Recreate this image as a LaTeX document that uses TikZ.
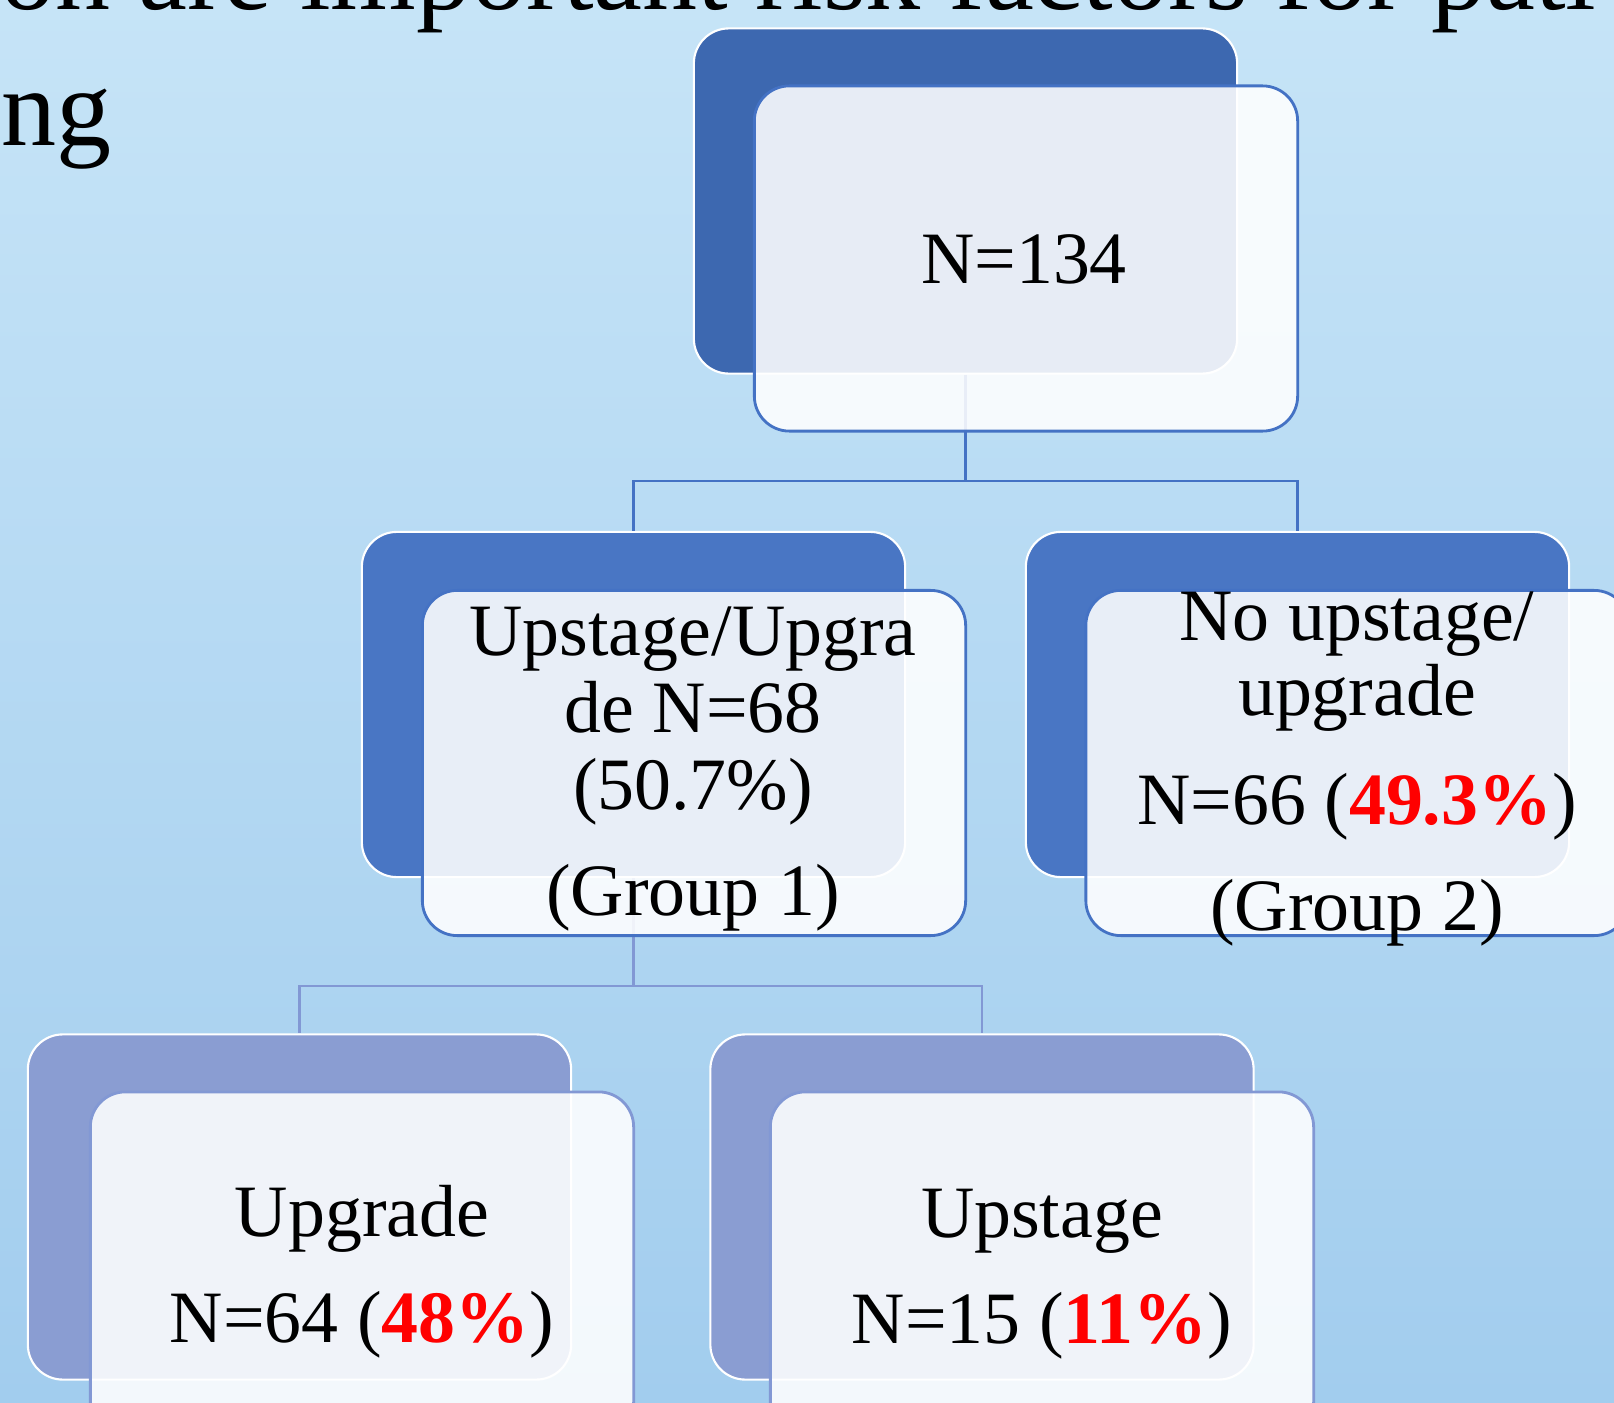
\documentclass[tikz,border=0pt]{standalone}
\usepackage{fontspec}
\setmainfont{Liberation Serif}

\definecolor{skytop}{RGB}{198,228,247}
\definecolor{skybottom}{RGB}{162,205,238}
\definecolor{rootfill}{RGB}{61,104,176}
\definecolor{midfill}{RGB}{73,118,196}
\definecolor{leaffill}{RGB}{138,157,210}
\definecolor{upperline}{RGB}{68,114,196}
\definecolor{lowerline}{RGB}{130,152,212}
\definecolor{pctred}{RGB}{255,0,0}

\newcommand{\pct}[1]{\textcolor{pctred}{\bfseries #1}}

\begin{document}
\begin{tikzpicture}[x=0.01cm,y=-0.01cm,
  backbox/.style={draw=white, line width=0.6pt, rounded corners=0.35cm,
    minimum width=5.43cm, minimum height=3.45cm, inner sep=0pt},
  frontbox/.style={draw=#1, line width=0.8pt, fill=white, fill opacity=0.88,
    rounded corners=0.35cm, minimum width=5.43cm, minimum height=3.45cm, inner sep=0pt},
  boxtext/.style={font=\fontsize{21pt}{25pt}\selectfont, anchor=base, inner sep=0pt},
  headline/.style={font=\fontsize{31.3pt}{36pt}\selectfont, anchor=base west, inner sep=0pt},
  connector/.style={line width=0.6pt}]

\useasboundingbox (0,0) rectangle (1614,1403);
\clip (0,0) rectangle (1614,1403);

% background
\shade[top color=skytop, bottom color=skybottom] (0,0) rectangle (1614,1403);

% heading fragments
\node[headline] (head1) at (0,10) {on are important risk factors for pati};
\node[headline] (head2) at (1,145) {ng};

% back boxes
\node[backbox, fill=rootfill] (d0) at (965.5,201) {};
\node[backbox, fill=midfill]  (d1) at (633.5,704.5) {};
\node[backbox, fill=midfill]  (d2) at (1297.5,704.5) {};
\node[backbox, fill=leaffill] (d3) at (299.5,1207) {};
\node[backbox, fill=leaffill] (d4) at (982,1207) {};

% connectors
\coordinate (bar1) at (0,481);
\coordinate (bar2) at (0,986);
\draw[connector, upperline] (d0.south) -- (d0.south |- bar1) -| (d1.north);
\draw[connector, upperline] (d0.south |- bar1) -| (d2.north);
\draw[connector, lowerline] (d1.south) -- (d1.south |- bar2) -| (d3.north);
\draw[connector, lowerline] (d1.south |- bar2) -| (d4.north);

% front boxes
\node[frontbox=upperline] (f0) at (1026,258.5) {};
\node[frontbox=upperline] (f1) at (694,763) {};
\node[frontbox=upperline] (f2) at (1357.5,763) {};
\node[frontbox=lowerline] (f3) at (362,1264.5) {};
\node[frontbox=lowerline] (f4) at (1042,1264.5) {};

% texts
\node[boxtext] (t0) at (1024,283) {N=134};

\node[boxtext] (t1a) at (693,655) {Upstage/Upgra};
\node[boxtext] (t1b) at (693,732) {de N=68};
\node[boxtext] (t1c) at (693,809) {(50.7\%)};
\node[boxtext] (t1d) at (693,915) {(Group 1)};

\node[boxtext] (t2a) at (1357,640) {No upstage/};
\node[boxtext] (t2b) at (1357,715) {upgrade};
\node[boxtext] (t2c) at (1357,824) {N=66 (\pct{49.3\%})};
\node[boxtext] (t2d) at (1357,930) {(Group 2)};

\node[boxtext] (t3a) at (362,1236) {Upgrade};
\node[boxtext] (t3b) at (362,1342) {N=64 (\pct{48\%})};

\node[boxtext] (t4a) at (1042,1237) {Upstage};
\node[boxtext] (t4b) at (1042,1343) {N=15 (\pct{11\%})};

\end{tikzpicture}
\end{document}
